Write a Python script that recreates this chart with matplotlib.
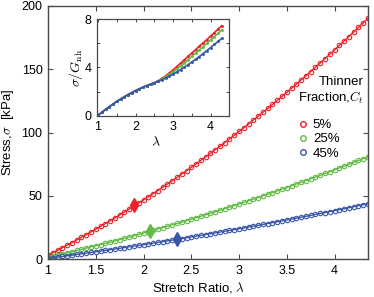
import matplotlib
matplotlib.use("Agg")
import matplotlib.pyplot as plt
from matplotlib.lines import Line2D
import numpy as np

plt.rcParams['font.family'] = ['Liberation Sans', 'DejaVu Sans']
plt.rcParams['mathtext.fontset'] = 'cm'

# stretch grid for the main curves (step 0.05)
lam = np.round(np.arange(1.0, 4.351, 0.05), 2)

stress_5 = [3.00, 4.94, 6.90, 8.89, 10.91, 12.95, 15.02, 17.11, 19.23, 21.38,
            23.55, 25.75, 27.97, 30.22, 32.50, 34.80, 37.13, 39.48, 41.86, 44.27,
            46.70, 49.16, 51.64, 54.15, 56.69, 59.25, 61.84, 64.45, 67.09, 69.76,
            72.45, 75.17, 77.91, 80.68, 83.48, 86.30, 89.15, 92.02, 94.92, 97.85,
            100.80, 103.78, 106.78, 109.81, 112.87, 115.95, 119.06, 122.19, 125.35, 128.54,
            131.75, 134.99, 138.25, 141.54, 144.86, 148.20, 151.57, 154.96, 158.38, 161.83,
            165.30, 168.80, 172.32, 175.87, 179.45, 183.05, 186.68, 190.33]
stress_25 = [1.50, 2.36, 3.22, 4.10, 4.98, 5.88, 6.78, 7.70, 8.62, 9.56,
             10.50, 11.46, 12.42, 13.40, 14.38, 15.38, 16.38, 17.40, 18.42, 19.46,
             20.50, 21.56, 22.62, 23.70, 24.78, 25.88, 26.98, 28.10, 29.22, 30.36,
             31.50, 32.66, 33.82, 35.00, 36.18, 37.38, 38.58, 39.80, 41.02, 42.26,
             43.50, 44.76, 46.02, 47.30, 48.58, 49.88, 51.18, 52.50, 53.82, 55.16,
             56.50, 57.86, 59.22, 60.60, 61.98, 63.38, 64.78, 66.20, 67.62, 69.06,
             70.50, 71.96, 73.42, 74.90, 76.38, 77.88, 79.38, 80.90]
stress_45 = [0.50, 1.00, 1.51, 2.02, 2.53, 3.05, 3.58, 4.11, 4.64, 5.17,
             5.72, 6.26, 6.81, 7.36, 7.92, 8.48, 9.05, 9.62, 10.20, 10.78,
             11.36, 11.95, 12.54, 13.14, 13.74, 14.34, 14.95, 15.57, 16.19, 16.81,
             17.44, 18.07, 18.70, 19.34, 19.99, 20.63, 21.29, 21.94, 22.61, 23.27,
             23.94, 24.61, 25.29, 25.98, 26.66, 27.35, 28.05, 28.75, 29.45, 30.16,
             30.88, 31.59, 32.31, 33.04, 33.77, 34.50, 35.24, 35.99, 36.73, 37.48,
             38.24, 39.00, 39.77, 40.53, 41.31, 42.08, 42.87, 43.65]

# diamond markers
mark_lam = [1.90, 2.07, 2.35]
mark_stress = [42.5, 22.1, 15.6]

# inset: normalised stress (step 0.1)
lam_in = np.round(np.arange(1.0, 4.31, 0.1), 1)
norm_5 = [0.03, 0.28, 0.52, 0.75, 0.97, 1.18, 1.38, 1.57, 1.75, 1.92, 2.08, 2.23,
          2.37, 2.50, 2.62, 2.74, 2.90, 3.09, 3.30, 3.54, 3.80, 4.08, 4.36, 4.64,
          4.92, 5.20, 5.48, 5.76, 6.04, 6.32, 6.60, 6.89, 7.18, 7.47]
norm_25 = [0.03, 0.28, 0.52, 0.75, 0.97, 1.18, 1.38, 1.57, 1.75, 1.92, 2.08, 2.23,
           2.37, 2.50, 2.62, 2.74, 2.88, 3.05, 3.23, 3.42, 3.62, 3.88, 4.13, 4.39,
           4.65, 4.92, 5.19, 5.46, 5.73, 6.00, 6.27, 6.55, 6.83, 7.11]
norm_45 = [0.03, 0.28, 0.52, 0.75, 0.97, 1.18, 1.38, 1.57, 1.75, 1.92, 2.08, 2.23,
           2.37, 2.50, 2.62, 2.73, 2.85, 2.98, 3.12, 3.28, 3.45, 3.63, 3.82, 4.02,
           4.23, 4.45, 4.68, 4.91, 5.15, 5.40, 5.65, 5.91, 6.16, 6.42]

labels = ['5%', '25%', '45%']
colors = ['#f02028', '#62bb46', '#3a56a8']
edge = '#4a4a4a'

fig = plt.figure(figsize=(3.74, 2.97), dpi=100)
ax = fig.add_axes([48 / 374, 38 / 297, 320 / 374, 253 / 297])

main = [stress_5, stress_25, stress_45]
for i in range(3):
    ax.plot(lam, main[i], color=colors[i], lw=1.0, marker='o', ms=3.2,
            mfc='none', mew=0.8, zorder=2)
    ax.plot(mark_lam[i], mark_stress[i], marker='d', color=colors[i],
            ms=7, zorder=3)

ax.set_xlim(1, 4.35)
ax.set_ylim(0, 200)
ax.set_xticks([1, 1.5, 2, 2.5, 3, 3.5, 4])
ax.set_xticklabels(['1', '1.5', '2', '2.5', '3', '3.5', '4'])
ax.set_yticks([0, 50, 100, 150, 200])
ax.tick_params(direction='in', top=True, right=True, length=3.5, width=0.8,
               color=edge, labelsize=9)
ax.tick_params(axis='x', pad=4.5)
ax.tick_params(axis='y', pad=4)
for s in ax.spines.values():
    s.set_color(edge)
    s.set_linewidth(1.0)
ax.set_xlabel(r'Stretch Ratio, $\lambda$', fontsize=9.5)
ax.set_ylabel(r'Stress,$\sigma$  [kPa]', fontsize=9.5)
ax.xaxis.set_label_coords(0.47, -0.083)
ax.yaxis.set_label_coords(-0.1, 0.5)

# legend
handles = [Line2D([], [], ls='none', marker='o', ms=4, mfc='none', mew=1.0,
                  color=c) for c in colors]
ax.legend(handles, labels, loc='upper left', frameon=False, fontsize=9.5,
          bbox_to_anchor=(297 / 374, 1 - 119 / 297), bbox_transform=fig.transFigure,
          borderpad=0, handlelength=0.9, handletextpad=0.3, labelspacing=0.15,
          borderaxespad=0)
fig.text(364 / 374, 1 - 76 / 297, 'Thinner\nFraction,$C_t$', ha='right', va='top',
         multialignment='right', fontsize=9.5, linespacing=1.15)

# inset
axi = fig.add_axes([97.3 / 374, 1 - 115.7 / 297, 132 / 374, 96.4 / 297])
ins = [norm_5, norm_25, norm_45]
for i in range(3):
    axi.plot(lam_in, ins[i], color=colors[i], lw=1.2, marker='o', ms=1.6,
             mew=0.5)
axi.set_xlim(0.98, 4.5)
axi.set_ylim(0, 8)
axi.set_xticks([1, 2, 3, 4])
axi.set_xticks([1.5, 2.5, 3.5, 4.5], minor=True)
axi.set_yticks([0, 4, 8])
axi.set_yticks([2, 6], minor=True)
axi.tick_params(which='both', direction='in', top=True, right=True, length=2.5,
                width=0.7, color=edge, labelsize=9)
axi.tick_params(axis='x', pad=4)
axi.tick_params(axis='y', pad=4)
for s in axi.spines.values():
    s.set_color(edge)
    s.set_linewidth(0.9)
axi.set_xlabel(r'$\lambda$', fontsize=10, labelpad=-1)
axi.set_ylabel(r'$\sigma/G_{\mathrm{nh}}$', fontsize=10, labelpad=0)
axi.xaxis.set_label_coords(0.44, -0.2)

fig.savefig('out.png', dpi=100)
